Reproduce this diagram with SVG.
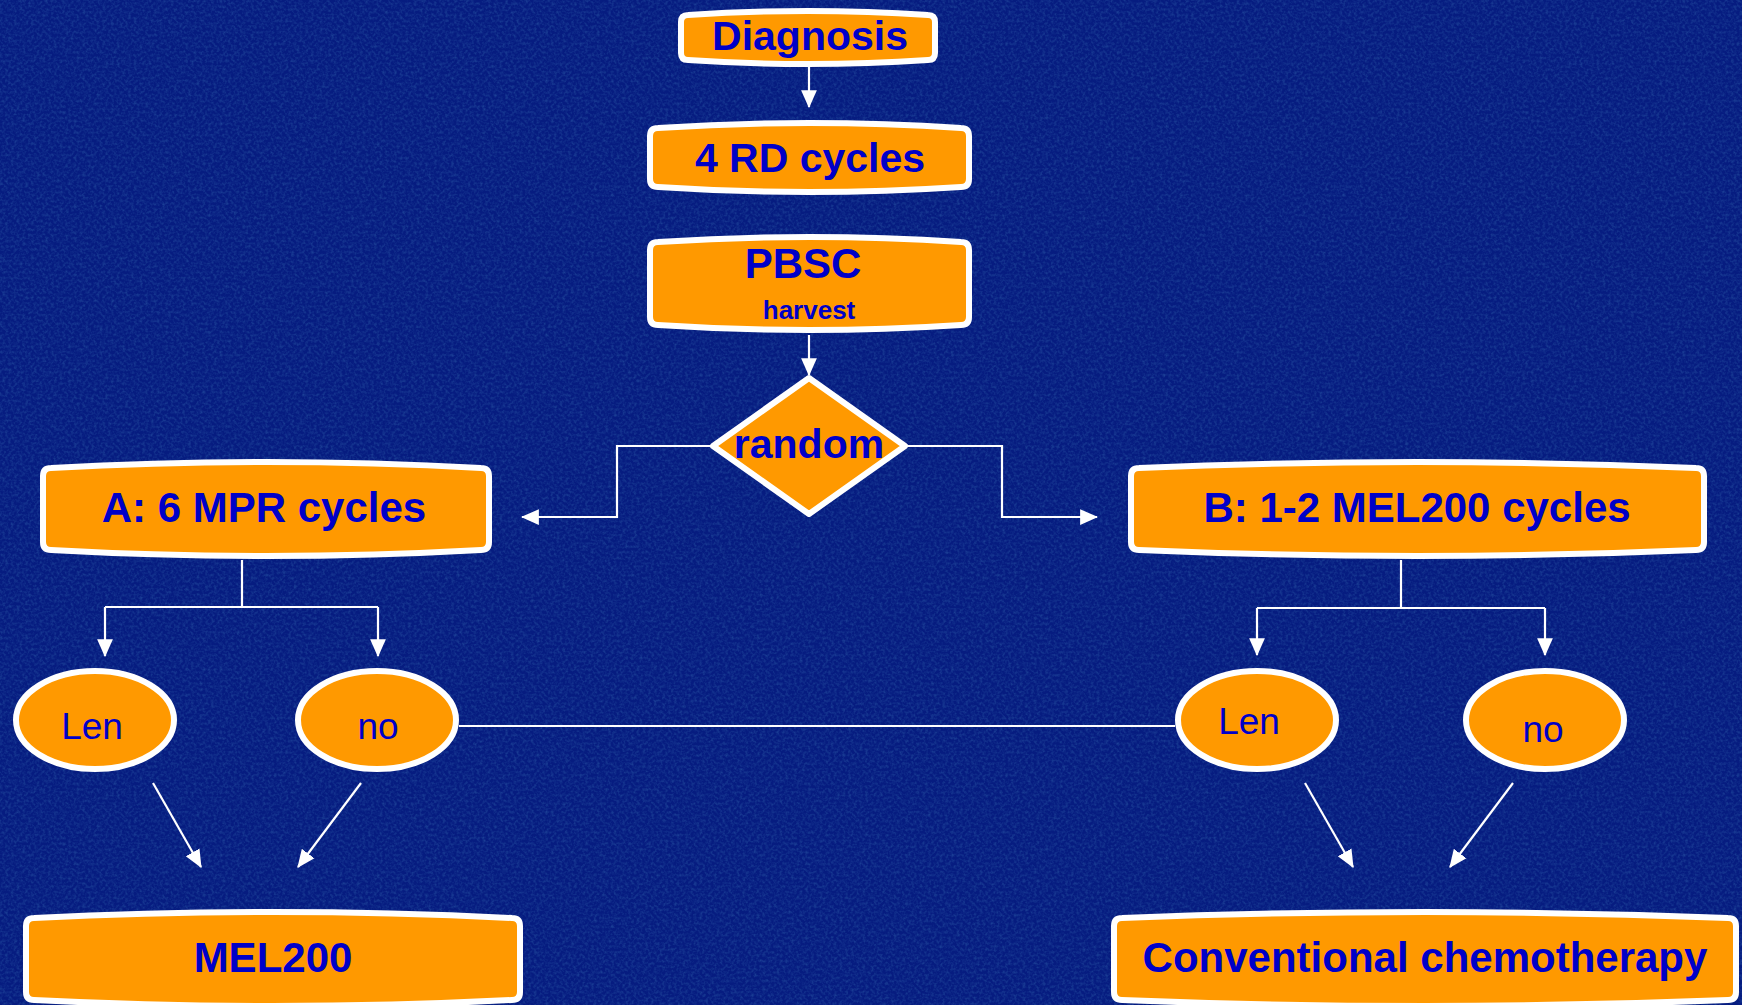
<svg xmlns="http://www.w3.org/2000/svg" width="1742" height="1005" viewBox="0 0 1742 1005">
  <defs>
    <style>
      .box { fill: #ff9900; stroke: #ffffff; stroke-width: 6; stroke-linejoin: round; }
      .ell { fill: #ff9900; stroke: #ffffff; stroke-width: 6; }
      .t { font-family: "Liberation Sans", Arial, sans-serif; font-weight: bold; fill: #0000c8; text-anchor: middle; }
      .r { font-family: "Liberation Sans", Arial, sans-serif; font-weight: normal; fill: #0000c8; text-anchor: middle; }
      .c { fill: none; stroke: #ffffff; stroke-width: 2.2; }
    </style>
    <marker id="ah" markerUnits="userSpaceOnUse" markerWidth="18" markerHeight="18" viewBox="0 0 16 16" refX="15" refY="8" orient="auto">
      <path d="M0,1 L16,8 L0,15 Z" fill="#ffffff"/>
    </marker>
    <filter id="noise" x="0" y="0" width="100%" height="100%">
      <feTurbulence type="fractalNoise" baseFrequency="0.35" numOctaves="2" seed="7"/>
      <feColorMatrix type="matrix" values="0 0 0 0 0.05  0 0 0 0 0.2  0 0 0 0 0.5  1.4 0 0 0 -0.55"/>
    </filter>
  </defs>
  <rect width="1742" height="1005" fill="#061c80"/>
  <rect width="1742" height="1005" filter="url(#noise)" opacity="0.5"/>

  <g id="connectors">
    <path class="c" d="M809,67 V107" marker-end="url(#ah)"/>
    <path class="c" d="M809,335 V375" marker-end="url(#ah)"/>
    <path class="c" d="M711,446 H617 V517 H522" marker-end="url(#ah)"/>
    <path class="c" d="M908,446 H1002 V517 H1097" marker-end="url(#ah)"/>
    <path class="c" d="M242,560 V607 M105,607 H378"/>
    <path class="c" d="M105,607 V656" marker-end="url(#ah)"/>
    <path class="c" d="M378,607 V656" marker-end="url(#ah)"/>
    <path class="c" d="M1401,560 V608 M1257,608 H1545"/>
    <path class="c" d="M1257,608 V655" marker-end="url(#ah)"/>
    <path class="c" d="M1545,608 V655" marker-end="url(#ah)"/>
    <path class="c" d="M459,726 H1175"/>
    <path class="c" d="M153,783 L201,867" marker-end="url(#ah)"/>
    <path class="c" d="M361,783 L298,867" marker-end="url(#ah)"/>
    <path class="c" d="M1305,783 L1353,867" marker-end="url(#ah)"/>
    <path class="c" d="M1513,783 L1450,867" marker-end="url(#ah)"/>
  </g>

  <g id="diagnosis">
    <path class="box" d="M681,22 Q681,15 688,15 Q808,7 928,15 Q935,15 935,22 L935,53 Q935,60 928,60 Q808,68 688,60 Q681,60 681,53 Z"/>
    <text class="t" x="810" y="50" font-size="41">Diagnosis</text>
  </g>

  <g id="rd-cycles">
    <path class="box" d="M650,136 Q650,128 658,128 Q809,118 961,128 Q969,128 969,136 L969,179 Q969,187 961,187 Q809,197 658,187 Q650,187 650,179 Z"/>
    <text class="t" x="810" y="172" font-size="41">4 RD cycles</text>
  </g>

  <g id="pbsc">
    <path class="box" d="M650,250 Q650,242 658,242 Q809,232 961,242 Q969,242 969,250 L969,317 Q969,325 961,325 Q809,335 658,325 Q650,325 650,317 Z"/>
    <text class="t" x="803" y="278" font-size="42">PBSC</text>
    <text class="t" x="809" y="319" font-size="26">harvest</text>
  </g>

  <g id="random">
    <path class="box" d="M809,378 L905,446 L809,514 L713,446 Z"/>
    <text class="t" x="809" y="458" font-size="41">random</text>
  </g>

  <g id="arm-a">
    <path class="box" d="M43,476 Q43,468 51,468 Q266,456 481,468 Q489,468 489,476 L489,542 Q489,550 481,550 Q266,562 51,550 Q43,550 43,542 Z"/>
    <text class="t" x="264" y="522" font-size="42">A: 6 MPR cycles</text>
  </g>

  <g id="arm-b">
    <path class="box" d="M1131,476 Q1131,468 1139,468 Q1417,456 1696,468 Q1704,468 1704,476 L1704,542 Q1704,550 1696,550 Q1417,562 1139,550 Q1131,550 1131,542 Z"/>
    <text class="t" x="1417" y="522" font-size="42">B: 1-2 MEL200 cycles</text>
  </g>

  <g id="a-len">
    <ellipse class="ell" cx="95" cy="720" rx="79" ry="49"/>
    <text class="r" x="92" y="739" font-size="37">Len</text>
  </g>
  <g id="a-no">
    <ellipse class="ell" cx="377" cy="720" rx="79" ry="49"/>
    <text class="r" x="378" y="739" font-size="37">no</text>
  </g>
  <g id="b-len">
    <ellipse class="ell" cx="1257" cy="720" rx="79" ry="49"/>
    <text class="r" x="1249" y="734" font-size="37">Len</text>
  </g>
  <g id="b-no">
    <ellipse class="ell" cx="1545" cy="720" rx="79" ry="49"/>
    <text class="r" x="1543" y="742" font-size="37">no</text>
  </g>

  <g id="mel200">
    <path class="box" d="M26,926 Q26,918 34,918 Q273,906 512,918 Q520,918 520,926 L520,992 Q520,1000 512,1000 Q273,1012 34,1000 Q26,1000 26,992 Z"/>
    <text class="t" x="273" y="972" font-size="42">MEL200</text>
  </g>

  <g id="conventional">
    <path class="box" d="M1114,926 Q1114,918 1122,918 Q1425,906 1728,918 Q1736,918 1736,926 L1736,992 Q1736,1000 1728,1000 Q1425,1012 1122,1000 Q1114,1000 1114,992 Z"/>
    <text class="t" x="1425" y="972" font-size="42">Conventional chemotherapy</text>
  </g>
</svg>
